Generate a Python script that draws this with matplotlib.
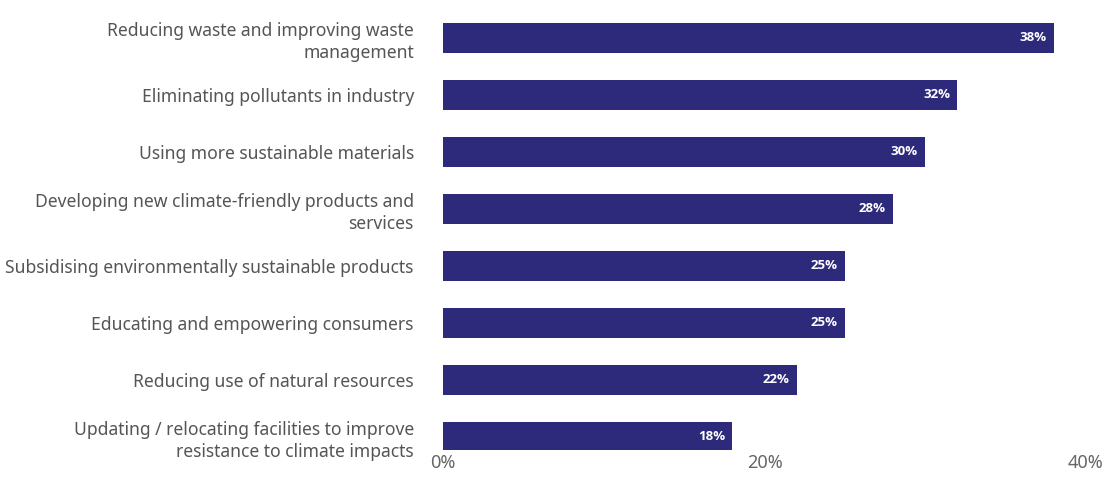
import matplotlib.pyplot as plt

# -----------------------------
# data
# -----------------------------
categories = [
    "Reducing waste and improving waste\nmanagement",
    "Eliminating pollutants in industry",
    "Using more sustainable materials",
    "Developing new climate-friendly products and\nservices",
    "Subsidising environmentally sustainable products",
    "Educating and empowering consumers",
    "Reducing use of natural resources",
    "Updating / relocating facilities to improve\nresistance to climate impacts",
]
values = [38, 32, 30, 28, 25, 25, 22, 18]
xticks = [0, 20, 40]
xtick_labels = ["0%", "20%", "40%"]

BAR_COLOR = "#2e2a7b"
TEXT_COLOR = "#555555"

plt.rcParams["font.family"] = ["Noto Sans", "DejaVu Sans"]

fig = plt.figure(figsize=(11.08, 4.97), dpi=100)
W, H = 1108, 497
# axes placed in pixel terms: left=443, right=1086, top=10, bottom=450
ax = fig.add_axes([443 / W, 1 - 450 / H, (1086 - 443) / W, (450 - 10) / H])

pos = list(range(len(categories)))
ax.barh(pos, values, height=0.54, color=BAR_COLOR)

for p, v in zip(pos, values):
    ax.text(v - 0.45, p, f"{v}%", ha="right", va="center",
            color="white", fontsize=9.5, fontweight="bold",
            family=["Open Sans", "DejaVu Sans"])

ax.set_xlim(0, 40)
ax.set_ylim(7.23, -0.49)
ax.set_yticks(pos)
ax.set_yticklabels(categories, fontsize=12.6, color=TEXT_COLOR, ha="right",
                   linespacing=1.3)
ax.set_xticks(xticks)
ax.set_xticklabels(xtick_labels, fontsize=13, color="#666666")
ax.tick_params(axis="y", length=0, pad=21)
ax.tick_params(axis="x", length=0, pad=3)
for s in ax.spines.values():
    s.set_visible(False)

fig.savefig("out.png", dpi=100)
